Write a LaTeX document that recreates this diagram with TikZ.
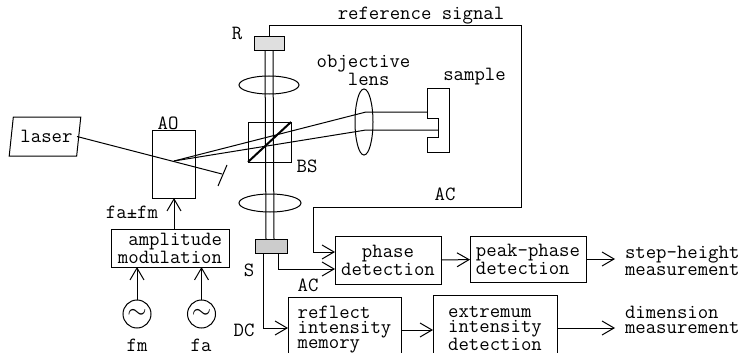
\documentclass[tikz,border=0pt]{standalone}
\usetikzlibrary{shapes.geometric,arrows.meta,positioning}

\begin{document}
\begin{tikzpicture}[
  x=1pt, y=-1pt, line width=1pt,
  every node/.style={font=\fontsize{20.2}{15}\selectfont\ttfamily, inner sep=0pt, outer sep=0pt},
  block/.style={rectangle, draw, minimum width=#1, align=center},
  det/.style={rectangle, draw, fill=gray!#1, minimum width=30pt, minimum height=14pt},
  lensshape/.style={ellipse, draw},
  source/.style={circle, draw, minimum size=28pt, font=\fontsize{24}{24}\selectfont},
  txt/.style={align=left, anchor=west},
  arr/.style={-{Straight Barb[length=12pt,width=14pt]}},
]
\useasboundingbox (0,0) rectangle (742,353);
\clip (0,0) rectangle (742,353);

% optics
\node[trapezium, draw, trapezium left angle=74, trapezium right angle=106,
  trapezium stretches=true, minimum width=72pt, minimum height=39pt] (laser) at (45,136.5) {\hspace{3pt}laser};
\node[block=43pt, minimum height=68pt] (ao) at (174,164) {};
\node[block=43pt, minimum height=40pt] (bs) at (269.5,142) {};
\node[det=25] (rdet) at (269,44) {};
\node[det=40, minimum width=32pt] (sdet) at (271,246) {};
\node[lensshape, minimum width=60pt, minimum height=18pt] (lensr) at (269,85) {};
\node[lensshape, minimum width=62pt, minimum height=18pt] (lenss) at (270,203) {};
\node[lensshape, minimum width=18pt, minimum height=66pt] (objlens) at (364,122) {};

\coordinate (spot) at (174,161);
\coordinate (stop) at (222,174);
\coordinate (stopa) at (227,165);
\coordinate (stopb) at (218,186);
\coordinate (upa) at (366,112);
\coordinate (upb) at (427,112);
\coordinate (lowa) at (366,130);
\coordinate (lowb) at (438,130);
\coordinate (laserout) at (77,136.5);

% sample
\draw (427,89) -- (449,89) -- (449,152) -- (427,152) -- (427,137) -- (438,137) -- (438,118) -- (427,118) -- cycle;

\draw ([xshift=-4pt]rdet.south) -- ([xshift=-5pt]sdet.north);
\draw ([xshift=4pt]rdet.south) -- ([xshift=3pt]sdet.north);
\draw (laserout) -- (stop);
\draw (stopa) -- (stopb);
\draw (spot) -- (upa) -- (upb);
\draw (spot) -- (lowa) -- (lowb);
\draw[line width=2pt] (bs.south west) -- (bs.north east);

% electronics
\node[block=118pt, minimum height=38pt, align=right] (amp) at (170,248) {amplitude\\modulation};
\node[source] (srcm) at (137,314) {$\sim$};
\node[source] (srca) at (201.5,314) {$\sim$};
\node[block=106pt, minimum height=48pt] (phase) at (388,260.5) {phase\\detection};
\node[block=116pt, minimum height=46pt, right=29pt of phase, yshift=1.5pt, align=left] (peak) {peak-phase\\detection};
\node[block=113pt, minimum height=66pt, align=left] (reflect) at (344.5,330) {reflect\\intensity\\memory};
\node[block=124pt, minimum height=66pt, right=32pt of reflect, yshift=2pt, align=left] (extremum) {extremum\\intensity\\detection};
\node[txt] (steplbl) at (625,261) {step-height\\measurement};
\node[txt] (dimlbl) at (625,319.5) {dimension\\measurement};

\coordinate (fibtop) at (521,26);
\coordinate (fibbot) at (521,207);
\coordinate (fibin) at (313,252);
\coordinate (acout) at (278,269);
\coordinate (dcout) at (263,328);

\draw[arr] (amp.north -| ao) -- (ao.south);
\draw[arr] (srcm) ++(0,-14) -- (srcm |- amp.south);
\draw[arr] (srca) ++(0,-14) -- (srca |- amp.south);
\draw (rdet.north) |- (fibtop) -- (fibbot) -| (fibin);
\draw[arr] (fibin) -- (fibin -| phase.west);
\draw[arr] (acout |- sdet.south) -- (acout) -- (acout -| phase.west);
\draw[arr] (dcout |- sdet.south) -- (dcout) -- (dcout -| reflect.west);
\draw[arr] (phase) -- (peak);
\draw[arr, shorten >=10pt] (peak) -- (peak -| steplbl.west);
\draw[arr] (reflect) -- (reflect -| extremum.west);
\draw[arr] (extremum.east) -- (615,328);

% labels
\node (rsig) at (421,16) {reference signal};
\node[align=center] (objlbl) at (363.5,70) {objective\\\ lens};
\node (samplbl) at (474.5,77) {sample};
\node (rlbl) at (237,33) {R};
\node (aolbl) at (168,123) {AO};
\node (bslbl) at (307,166) {BS};
\node (ac1) at (445,194) {AC};
\node (ac2) at (308,285) {AC};
\node (slbl) at (249,270) {S};
\node (dclbl) at (244,330) {DC};
\node (falbl) at (132,212) {fa±fm};
\node (fmlbl) at (137,345) {fm};
\node (falbl2) at (201,345) {fa};
\end{tikzpicture}
\end{document}
